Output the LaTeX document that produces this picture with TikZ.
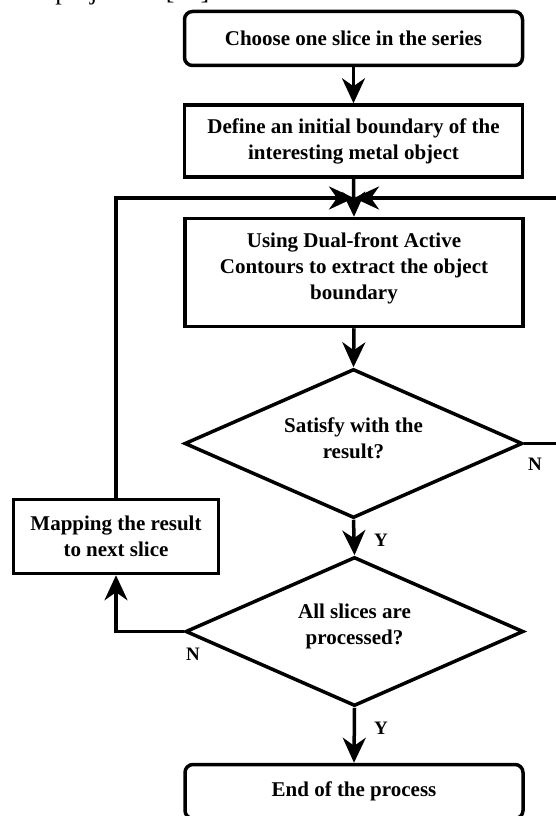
\documentclass[tikz,border=0pt]{standalone}
\usepackage{fontspec}
\setmainfont{Liberation Serif}
\usetikzlibrary{arrows.meta,shapes.geometric}
\begin{document}
\begin{tikzpicture}[x=1pt,y=-1pt,
  every node/.style={font=\fontsize{21}{26}\selectfont\bfseries, align=center, inner sep=0pt},
  box/.style={draw, line width=3.5pt, minimum width=338pt, minimum height=54pt},
  rbox/.style={box, rounded corners=8pt},
  dec/.style={draw, diamond, line width=3.5pt, minimum width=338pt, minimum height=149pt},
  conn/.style={line width=3.5pt, -{Stealth[length=25pt,width=23pt,inset=8pt]}},
  lab/.style={font=\fontsize{19}{22}\selectfont\bfseries}]
\useasboundingbox (0,0) rectangle (556,816);
\clip (0,0) rectangle (556,816);

\node[font=\fontsize{26}{30}\selectfont, anchor=base west] (top) at (17,-0.5) {the projectors [10].};

\node[rbox] (b1) at (353.5,38.5) {Choose one slice in the series};
\node[box, minimum height=72pt] (b2) at (353.5,141) {Define an initial boundary of the\\interesting metal object};
\node[box, minimum height=108pt] (b3) at (354,272.5) {};
\node (b3t) at ([yshift=4pt]b3.center) {Using Dual-front Active\\Contours to extract the object\\boundary};
\node[dec] (d1) at (353.5,443.5) {};
\node (d1t) at ([yshift=5pt]d1.center) {Satisfy with the\\result?};
\node[dec] (d2) at (354.5,631.5) {};
\node (d2t) at ([yshift=5pt]d2.center) {All slices are\\processed?};
\node[box, minimum width=205pt, minimum height=74pt] (b4) at (116,536.5) {Mapping the result\\to next slice};
\node[rbox] (b5) at (354,791.5) {End of the process};

\coordinate (j) at (354,198);

\draw[conn] (b1.south) -- (b2.north);
\draw[conn] (b2.south) -- (b3.north);
\draw[conn] (b3.south) -- (d1.north);
\draw[conn] (d1.south) -- (d2.north);
\draw[conn] (d2.south) -- (b5.north);
\draw[conn] (d2.west) -| (b4.south);
\draw[conn] (b4.north) |- (j);
\draw[conn] (d1.east) -- ++(45,0) |- (j);

\node[lab] (n1) at (535,464) {N};
\node[lab] (y1) at (381,540) {Y};
\node[lab] (n2) at (193,654) {N};
\node[lab] (y2) at (381,728) {Y};
\end{tikzpicture}
\end{document}
